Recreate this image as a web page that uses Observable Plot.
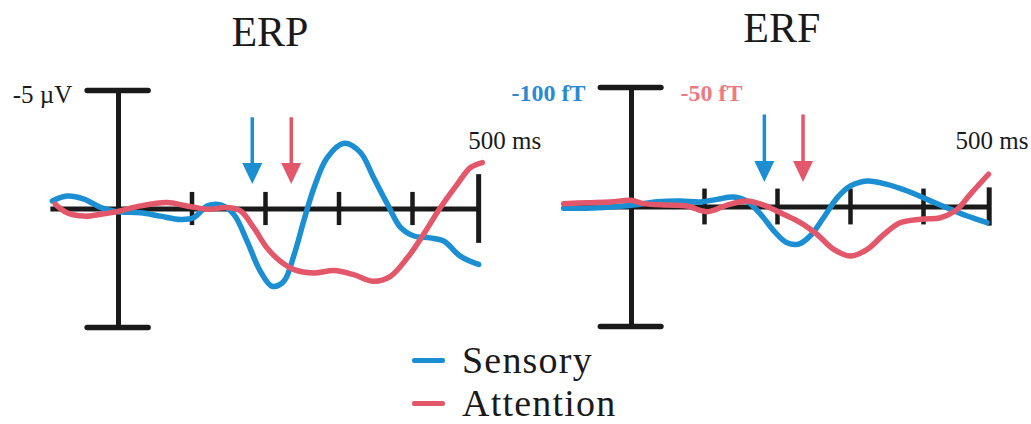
<!DOCTYPE html>
<html><head><meta charset="utf-8">
<script src="https://cdn.jsdelivr.net/npm/d3@7"></script>
<script src="https://cdn.jsdelivr.net/npm/@observablehq/plot@0.6"></script>
<style>
body{margin:0;background:#fff;}
#wrap{position:relative;width:1031px;height:424px;overflow:hidden;font-family:"Liberation Serif","Times New Roman",serif;}
.panel{position:absolute;top:0;}
.legtxt{position:absolute;font-size:38px;line-height:36px;letter-spacing:1.2px;color:#1a1a1a;white-space:nowrap;}
.legsw{position:absolute;width:33px;height:5px;border-radius:2px;}
</style></head><body><div id="wrap"></div>
<script>
// ---------- data ----------
const seriesNames = ["Sensory", "Attention"];
const seriesColors = ["#1b8fd2", "#e2586a"];

// ERP (µV), scale bar = 5 µV, negative up
const erpSensoryTime = [-90,-70,-47,-24,-2,30,57,84,102,121,139,157,175,193,209,225,239,252,266,284,307,329,347,366,384,402,424,443,465,490];
const erpSensoryUV   = [-0.34,-0.55,-0.42,-0.06,0.11,0.16,0.30,0.44,0.37,-0.13,-0.17,0.23,1.36,2.63,3.26,3.05,1.92,0.51,-0.90,-2.17,-2.77,-2.39,-1.33,-0.20,0.79,1.14,1.22,1.36,1.99,2.34];
const erpAttentionTime = [-86,-70,-47,-24,-2,30,66,93,121,148,166,184,202,220,239,266,293,320,347,370,393,415,438,461,479,495];
const erpAttentionUV   = [-0.20,0.16,0.30,0.22,0.11,-0.13,-0.27,-0.13,0.01,-0.06,0.08,0.79,1.64,2.20,2.56,2.70,2.60,2.77,3.05,2.84,2.06,1.07,-0.06,-1.05,-1.75,-1.96];

// ERF (fT), scale bar = 100 fT (Sensory), 50 fT (Attention)
const erfSensoryTime = [-93,-61,-29,3,35,67,95,117,140,158,177,195,213,229,245,263,282,300,323,350,378,405,432,460,487];
const erfSensoryFT   = [1,1,0,-1.7,-4.4,-5,-4.2,-6.4,-8.4,-5,6.1,20,30,31,24,9,-7.8,-17.6,-21.8,-19,-13.4,-6.4,0.6,7.5,13];
const erfAttentionTime = [-93,-61,-29,-1,17,49,76,104,131,158,181,209,232,254,277,300,323,346,368,396,423,446,464,489];
const erfAttentionFT   = [-1.4,-1.8,-2.1,-2.8,-1.4,-0.8,-0.4,2.0,-0.8,-2.5,-0.8,3.1,6.6,11.4,17.7,20.5,17.7,11.4,6.6,5.1,4.5,1.0,-5.3,-13.7];

const erpScaleBars = [5, 5];
const erfScaleBars = [100, 50];

const tickTimes = [100, 200, 300, 400];
const axisEndTime = 490;
const axisStartTime = -92;
const arrowTimes = [182, 235];

const panelTitles = ["ERP", "ERF"];
const erpBarLabel = "-5 µV";
const erfBarLabels = ["-100 fT", "-50 fT"];
const timeLabel = "500 ms";

// ---------- drawing ----------
const ink = "#1a1a1a";
const font = '"Liberation Serif","Times New Roman",serif';
const arrowHead = {draw(ctx) { ctx.moveTo(0, 0); ctx.lineTo(-10, -21); ctx.lineTo(10, -21); ctx.closePath(); }};

function rowsFor(times, values, bars) {
  const rows = [];
  times.forEach((ts, i) => ts.forEach((t, j) => rows.push({t, v: values[i][j] / bars[i], name: seriesNames[i]})));
  return rows;
}

function makePanel(p) {
  const arrows = arrowTimes.map((t, i) => ({t, name: seriesNames[i]}));
  return Plot.plot({
    width: p.width, height: 345, margin: 0,
    style: {overflow: "visible", background: "transparent", fontFamily: font},
    x: {domain: [-100, 500], range: [p.x0 - p.px100, p.x0 + 5 * p.px100], axis: null},
    y: {domain: [-1, 1], range: [p.yTop, p.yBot], axis: null},
    color: {domain: seriesNames, range: seriesColors},
    marks: [
      Plot.ruleX([0], {y1: -1, y2: 1, stroke: ink, strokeWidth: 5}),
      Plot.ruleY([-1, 1], {x1: -42, x2: 41, stroke: ink, strokeWidth: 5.5, strokeLinecap: "round"}),
      Plot.ruleY([0], {x1: axisStartTime, x2: axisEndTime, stroke: ink, strokeWidth: 5}),
      Plot.ruleX(tickTimes, {y1: -p.tick, y2: p.tick, stroke: ink, strokeWidth: 4.5}),
      Plot.ruleX([axisEndTime], {y1: -p.endTick, y2: p.endTick, stroke: ink, strokeWidth: 5}),
      Plot.line(p.rows, {x: "t", y: "v", z: "name", stroke: "name", strokeWidth: 5.5, curve: "catmull-rom", strokeLinejoin: "round", strokeLinecap: "round"}),
      Plot.ruleX(arrows, {x: "t", y1: -0.77, y2: -0.36, stroke: "name", strokeWidth: 3.5}),
      Plot.dot(arrows, {x: "t", y: -0.21, symbol: arrowHead, fill: "name", stroke: "none"}),
      Plot.text([p.title], {x: 206, y: -1.49, text: d => d, fontSize: 42, fill: ink}),
      Plot.text([timeLabel], {x: p.timeX, y: p.timeY, text: d => d, fontSize: 25, fill: ink, textAnchor: "start"}),
      ...p.extra
    ]
  });
}

const erpPanel = makePanel({
  width: 515, x0: 118, px100: 73.5, yTop: 90, yBot: 327, tick: 0.14, endTick: 0.29,
  rows: rowsFor([erpSensoryTime, erpAttentionTime], [erpSensoryUV, erpAttentionUV], erpScaleBars),
  title: panelTitles[0], timeX: 476, timeY: -0.575,
  extra: [Plot.text([erpBarLabel], {x: -63, y: -0.96, text: d => d, fontSize: 25, fill: ink, textAnchor: "end"})]
});
const erfPanel = makePanel({
  width: 516, x0: 116, px100: 73, yTop: 87, yBot: 326, tick: 0.15, endTick: 0.16,
  rows: rowsFor([erfSensoryTime, erfAttentionTime], [erfSensoryFT, erfAttentionFT], erfScaleBars),
  title: panelTitles[1], timeX: 444, timeY: -0.55,
  extra: [
    Plot.text([erfBarLabels[0]], {x: -63, y: -0.95, text: d => d, fontSize: 24, fontWeight: "bold", fill: "#2a8ad0", textAnchor: "end"}),
    Plot.text([erfBarLabels[1]], {x: 67, y: -0.95, text: d => d, fontSize: 24, fontWeight: "bold", fill: "#ec7a80", textAnchor: "start"})
  ]
});

const wrap = document.getElementById("wrap");
erpPanel.classList.add("panel"); erpPanel.style.left = "0px";
erfPanel.classList.add("panel"); erfPanel.style.left = "515px";
wrap.appendChild(erpPanel);
wrap.appendChild(erfPanel);

// legend
seriesNames.forEach((name, i) => {
  const sw = document.createElement("div");
  sw.className = "legsw";
  sw.style.left = "412px";
  sw.style.top = (358 + i * 43) + "px";
  sw.style.background = seriesColors[i];
  wrap.appendChild(sw);
  const tx = document.createElement("div");
  tx.className = "legtxt";
  tx.style.left = "462px";
  tx.style.top = (342 + i * 42.5) + "px";
  tx.textContent = name;
  wrap.appendChild(tx);
});
</script></body></html>
